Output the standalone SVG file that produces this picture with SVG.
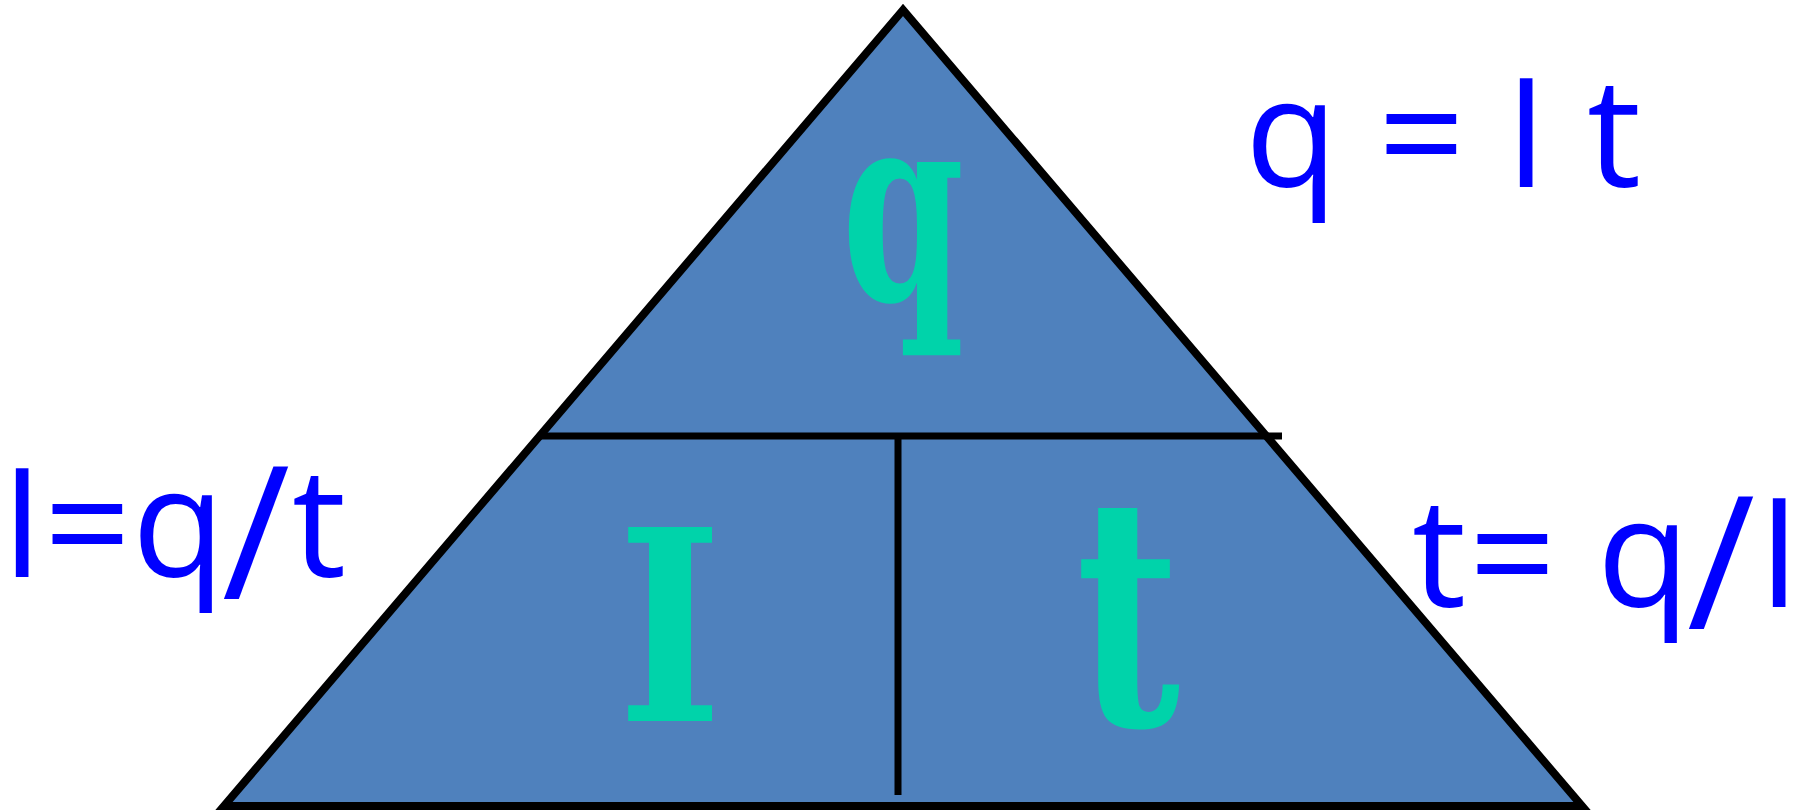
<svg xmlns="http://www.w3.org/2000/svg" width="1810" height="810" viewBox="0 0 1810 810">
<style>
.eq{font-family:"Open Sans","Noto Sans",sans-serif;font-size:152px;fill:#0000FF}
.sl{font-size:186px}
.big{font-family:"DejaVu Serif",serif;font-weight:bold;fill:#00D3AA;text-anchor:middle}
.ln{stroke:#000;stroke-width:7;fill:none}
</style>
<rect width="1810" height="810" fill="#fff"/>
<g id="triangle"><polygon points="903,10 224,806 1582,806" fill="#4F81BD" stroke="#000" stroke-width="8"/></g>
<g id="connectors">
<line class="ln" x1="540" y1="436" x2="1282" y2="436"/>
<line class="ln" x1="898" y1="436" x2="898" y2="795"/>
</g>
<g id="node-q"><text class="big" font-size="266" transform="translate(903,300) scale(0.66,1)">q</text></g>
<g id="node-I"><text class="big" font-size="266" transform="translate(670,721) scale(0.84,1)">I</text></g>
<g id="node-t"><text class="big" font-size="266" transform="translate(1128,725) scale(0.85,1.2)">t</text></g>
<g id="eq-q"><text class="eq" x="1245 1320 1378 1460 1505 1550 1587" y="187">q = I t</text></g>
<g id="eq-I"><text class="eq" y="577"><tspan x="1">I</tspan><tspan x="44">=</tspan><tspan x="132">q</tspan><tspan class="sl" x="222" dy="22">/</tspan><tspan x="292" dy="-22">t</tspan></text></g>
<g id="eq-t"><text class="eq" y="607"><tspan x="1412">t</tspan><tspan x="1469">=</tspan><tspan x="1560"> </tspan><tspan x="1597">q</tspan><tspan class="sl" x="1687" dy="22">/</tspan><tspan x="1758" dy="-22">I</tspan></text></g>
</svg>
